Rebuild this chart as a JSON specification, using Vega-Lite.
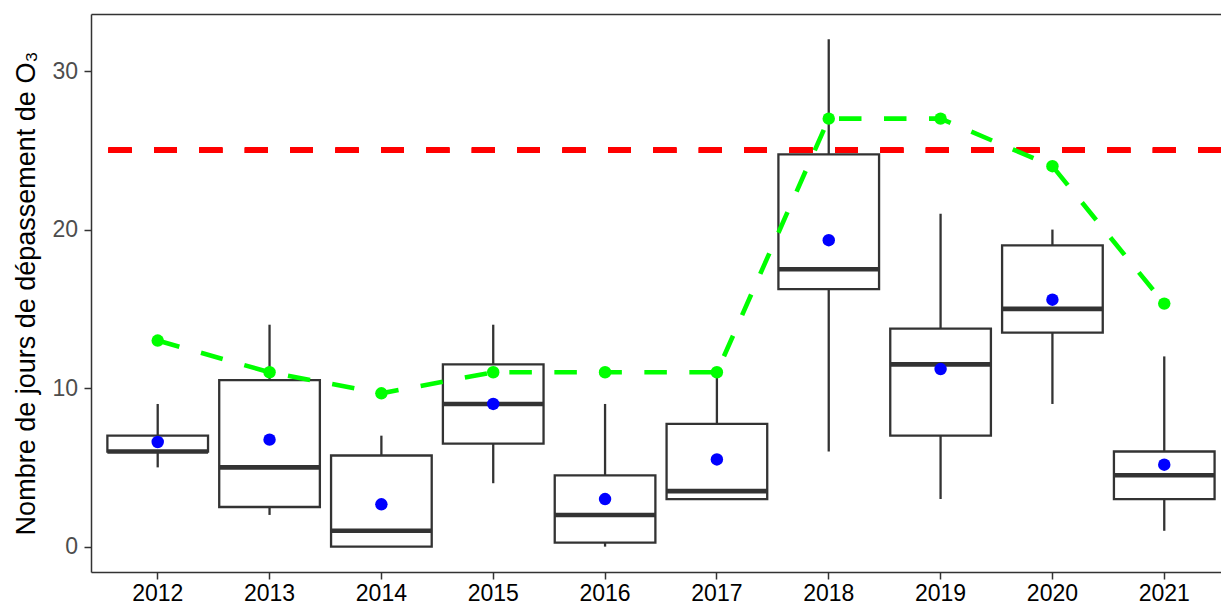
{
  "$schema": "https://vega.github.io/schema/vega-lite/v6.json",
  "autosize": {"type": "none"},
  "padding": {"left": 91, "top": 14, "right": 0, "bottom": 32},
  "width": 1130,
  "height": 558,
  "background": "white",
  "config": {
    "font": "Liberation Sans",
    "view": {"stroke": null}
  },
  "data": {
    "values": [
      {"year": "2012", "lo": 5, "q1": 6, "med": 6, "q3": 7, "hi": 9, "mean": 6.6, "seuil3ans": 13},
      {"year": "2013", "lo": 2, "q1": 2.5, "med": 5, "q3": 10.5, "hi": 14, "mean": 6.75, "seuil3ans": 11},
      {"year": "2014", "lo": 0, "q1": 0, "med": 1, "q3": 5.75, "hi": 7, "mean": 2.67, "seuil3ans": 9.67},
      {"year": "2015", "lo": 4, "q1": 6.5, "med": 9, "q3": 11.5, "hi": 14, "mean": 9, "seuil3ans": 11},
      {"year": "2016", "lo": 0, "q1": 0.25, "med": 2, "q3": 4.5, "hi": 9, "mean": 3, "seuil3ans": 11},
      {"year": "2017", "lo": 3, "q1": 3, "med": 3.5, "q3": 7.75, "hi": 11, "mean": 5.5, "seuil3ans": 11},
      {"year": "2018", "lo": 6, "q1": 16.25, "med": 17.5, "q3": 24.75, "hi": 32, "mean": 19.33, "seuil3ans": 27},
      {"year": "2019", "lo": 3, "q1": 7, "med": 11.5, "q3": 13.75, "hi": 21, "mean": 11.2, "seuil3ans": 27},
      {"year": "2020", "lo": 9, "q1": 13.5, "med": 15, "q3": 19, "hi": 20, "mean": 15.58, "seuil3ans": 24},
      {"year": "2021", "lo": 1, "q1": 3, "med": 4.5, "q3": 6, "hi": 12, "mean": 5.17, "seuil3ans": 15.33}
    ]
  },
  "resolve": {"axis": {"x": "independent"}},
  "layer": [
    {
      "mark": {"type": "rule", "color": "#333333", "strokeWidth": 2.3},
      "encoding": {
        "x": {
          "field": "year", "type": "nominal",
          "scale": {"type": "band", "paddingInner": 0, "paddingOuter": 0.0519, "align": 0.929},
          "axis": {
            "title": null, "labelAngle": 0, "labelFontSize": 23, "labelColor": "black",
            "tickSize": 7, "tickColor": "#333333", "tickWidth": 1.5,
            "domainColor": "#333333", "domainWidth": 1.5, "labelPadding": 3
          }
        },
        "y": {
          "field": "lo", "type": "quantitative",
          "scale": {"domain": [-1.6, 33.6], "nice": false, "zero": false},
          "axis": {
            "title": "Nombre de jours de dépassement de O₃",
            "titleFontSize": 27, "titleFontWeight": "normal", "titleColor": "black", "titlePadding": 11,
            "labelFontSize": 23, "labelColor": "#4D4D4D", "labelPadding": 6.5,
            "tickSize": 7, "tickColor": "#333333", "tickWidth": 1.5,
            "domainColor": "#333333", "domainWidth": 1.5,
            "grid": false, "values": [0, 10, 20, 30]
          }
        },
        "y2": {"field": "hi"}
      }
    },
    {
      "mark": {"type": "bar", "fill": "white", "stroke": "#333333", "strokeWidth": 2.3, "width": {"band": 0.9}},
      "encoding": {
        "x": {"field": "year", "type": "nominal", "axis": null},
        "y": {"field": "q1", "type": "quantitative"},
        "y2": {"field": "q3"}
      }
    },
    {
      "mark": {"type": "tick", "color": "#333333", "size": 100.7, "thickness": 4.6, "opacity": 1},
      "encoding": {
        "x": {"field": "year", "type": "nominal", "axis": null},
        "y": {"field": "med", "type": "quantitative"}
      }
    },
    {
      "mark": {"type": "rule", "color": "#FF0000", "strokeWidth": 5.5, "strokeDash": [22.7, 22.7]},
      "encoding": {
        "y": {"datum": 25}
      }
    },
    {
      "mark": {"type": "line", "color": "#00FF00", "strokeWidth": 4.6, "strokeDash": [22.5, 22.5]},
      "encoding": {
        "x": {
          "field": "year", "type": "nominal",
          "axis": {"orient": "top", "title": null, "labels": false, "ticks": false, "domainColor": "#333333", "domainWidth": 1.5}
        },
        "y": {"field": "seuil3ans", "type": "quantitative"}
      }
    },
    {
      "mark": {"type": "point", "filled": true, "color": "#00FF00", "size": 155, "opacity": 1},
      "encoding": {
        "x": {"field": "year", "type": "nominal", "axis": null},
        "y": {"field": "seuil3ans", "type": "quantitative"}
      }
    },
    {
      "mark": {"type": "point", "filled": true, "color": "#0000FF", "size": 155, "opacity": 1},
      "encoding": {
        "x": {"field": "year", "type": "nominal", "axis": null},
        "y": {"field": "mean", "type": "quantitative"}
      }
    }
  ]
}
